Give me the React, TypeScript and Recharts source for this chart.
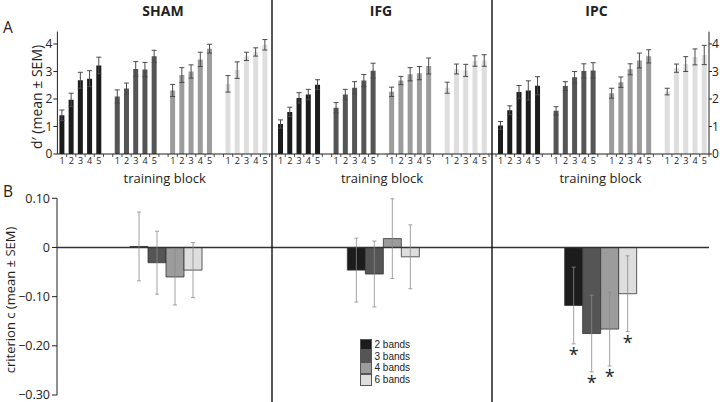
import React from 'react';
import { BarChart, Bar, XAxis, YAxis, ErrorBar, Cell, ReferenceLine, LabelList } from 'recharts';

// ---------- data ----------
const conditions = ['SHAM', 'IFG', 'IPC'];
const bandNames = ['2 bands', '3 bands', '4 bands', '6 bands'];
const blocks = ['1', '2', '3', '4', '5'];

// d' (mean) per band (rows) x training block (cols)
const shamDMean = [
  [1.41, 1.97, 2.68, 2.74, 3.22],
  [2.09, 2.38, 3.09, 3.07, 3.55],
  [2.31, 2.87, 3.0, 3.44, 3.83],
  [2.55, 3.05, 3.55, 3.71, 3.97],
];
const shamDSem = [
  [0.19, 0.24, 0.29, 0.29, 0.3],
  [0.24, 0.2, 0.27, 0.26, 0.22],
  [0.22, 0.27, 0.24, 0.26, 0.16],
  [0.3, 0.3, 0.15, 0.15, 0.19],
];
const ifgDMean = [
  [1.09, 1.53, 2.04, 2.16, 2.52],
  [1.68, 2.16, 2.41, 2.67, 3.03],
  [2.26, 2.67, 2.9, 2.94, 3.2],
  [2.41, 3.09, 3.04, 3.38, 3.4],
];
const ifgDSem = [
  [0.15, 0.17, 0.19, 0.19, 0.18],
  [0.19, 0.19, 0.22, 0.22, 0.27],
  [0.17, 0.15, 0.24, 0.24, 0.29],
  [0.2, 0.18, 0.22, 0.19, 0.21],
];
const ipcDMean = [
  [1.04, 1.59, 2.25, 2.31, 2.48],
  [1.57, 2.47, 2.79, 3.02, 3.04],
  [2.21, 2.61, 3.08, 3.4, 3.55],
  [2.27, 3.12, 3.27, 3.53, 3.6],
];
const ipcDSem = [
  [0.14, 0.16, 0.24, 0.35, 0.33],
  [0.15, 0.16, 0.21, 0.26, 0.28],
  [0.18, 0.19, 0.2, 0.27, 0.24],
  [0.12, 0.15, 0.27, 0.29, 0.35],
];
const dTicks = [0, 1, 2, 3, 4];

// criterion c per band
const shamCMean = [0.002, -0.031, -0.06, -0.046];
const shamCSem = [0.07, 0.064, 0.057, 0.056];
const ifgCMean = [-0.046, -0.054, 0.018, -0.019];
const ifgCSem = [0.065, 0.067, 0.081, 0.065];
const ipcCMean = [-0.118, -0.175, -0.166, -0.094];
const ipcCSem = [0.078, 0.078, 0.075, 0.077];
const shamSig = [false, false, false, false];
const ifgSig = [false, false, false, false];
const ipcSig = [true, true, true, true];
const cTicks = [0.1, 0, -0.1, -0.2, -0.3];

// ---------- styles ----------
const bandColors = ['#1c1c1c', '#555555', '#9c9c9c', '#dedede'];
const FONT = '"Open Sans", "DejaVu Sans", sans-serif';
const TXT = '#222';

const dMeans = [shamDMean, ifgDMean, ipcDMean];
const dSems = [shamDSem, ifgDSem, ipcDSem];
const cMeans = [shamCMean, ifgCMean, ipcCMean];
const cSems = [shamCSem, ifgCSem, ipcCSem];
const cSigs = [shamSig, ifgSig, ipcSig];

type Row = { key: string; label: string; value: number | null; err?: number; band: number };

function buildBlockRows(means: number[][], sems: number[][]): Row[] {
  const rows: Row[] = [];
  means.forEach((arr, g) => {
    if (g > 0) rows.push({ key: `gap${g}`, label: '', value: null, band: -1 });
    arr.forEach((m, b) => rows.push({ key: `g${g}b${b}`, label: blocks[b], value: m, err: sems[g][b], band: g }));
  });
  return rows;
}

const panelLayout = [
  { left: 0, width: 272, yAxis: 'left', yW: 57.4, padL: 0, padR: 2.4 },
  { left: 272, width: 220, yAxis: 'none', yW: 0, padL: 4, padR: 3 },
  { left: 492, width: 228, yAxis: 'right', yW: 11, padL: 4, padR: 0 },
];

const A_H = 186;

function PanelA({ idx }: { idx: number }) {
  const p = panelLayout[idx];
  const rows = buildBlockRows(dMeans[idx], dSems[idx]);
  const bw = (p.width - p.yW - p.padL - p.padR) / rows.length;
  const renderTick = (props: any) => {
    const { x, y, payload } = props;
    const row = rows[payload.index];
    return (
      <g>
        {payload.index === 0 && idx > 0 ? (
          <line x1={x - bw / 2} x2={x - bw / 2} y1={y} y2={y + 3} stroke={TXT} strokeWidth={0.8} />
        ) : null}
        <line x1={x + bw / 2} x2={x + bw / 2} y1={y} y2={y + 3} stroke={TXT} strokeWidth={0.8} />
        {row && row.label ? (
          <text x={x} y={y + 9.5} textAnchor="middle" fontSize={9} fill={TXT} fontFamily={FONT}>
            {row.label}
          </text>
        ) : null}
      </g>
    );
  };
  return (
    <div style={{ position: 'absolute', left: p.left, top: 0 }}>
      <BarChart width={p.width} height={A_H} data={rows} margin={{ top: 31.6, right: 0, bottom: 0, left: 0 }}>
        <XAxis
          dataKey="key"
          interval={0}
          tickLine={false}
          tickSize={0}
          tickMargin={0}
          height={32}
          axisLine={{ stroke: TXT, strokeWidth: 1 }}
          padding={{ left: p.padL, right: p.padR }}
          tick={renderTick}
          label={{ value: 'training block', position: 'insideBottom', offset: 3, fill: TXT, fontSize: 13, fontFamily: FONT }}
        />
        {p.yAxis === 'none' ? (
          <YAxis hide domain={[0, 4.45]} allowDataOverflow />
        ) : (
          <YAxis
            orientation={p.yAxis as any}
            width={p.yW}
            domain={[0, 4.45]}
            allowDataOverflow
            ticks={dTicks}
            tickSize={p.yAxis === 'left' ? 4 : 3}
            tickMargin={p.yAxis === 'left' ? 1 : 0}
            axisLine={{ stroke: TXT, strokeWidth: 1 }}
            tickLine={{ stroke: TXT, strokeWidth: 1 }}
            tick={{ fill: TXT, fontSize: 12, fontFamily: FONT }}
          />
        )}
        <Bar dataKey="value" barSize={5} isAnimationActive={false}>
          {rows.map((r) => (
            <Cell key={r.key} fill={r.band >= 0 ? bandColors[r.band] : 'none'} />
          ))}
          <ErrorBar dataKey="err" width={2.5} stroke="#4a4a4a" strokeWidth={1} />
        </Bar>
      </BarChart>
    </div>
  );
}

const B_TOP = 186;

function PanelB() {
  const rows = conditions.map((c, i) => {
    const r: any = { cond: c };
    bandNames.forEach((_, k) => {
      r[`m${k}`] = cMeans[i][k];
      r[`e${k}`] = cSems[i][k];
    });
    return r;
  });
  const fmt = (v: number) => (v === 0 ? '0' : (v < 0 ? '\u2212' : '') + Math.abs(v).toFixed(2));
  const asterisk = (k: number) => (props: any) => {
    const { index } = props;
    if (index == null || !cSigs[index][k]) return null;
    const vb = props.viewBox && props.viewBox.height != null ? props.viewBox : props;
    const { x, y, width, height } = vb;
    const value = cMeans[index][k];
    const err = cSems[index][k];
    const top = Math.min(y, y + height);
    const bottom = Math.max(y, y + height);
    const ppu = Math.abs(height) / Math.abs(value);
    const zeroY = value < 0 ? top : bottom;
    const capY = zeroY - (value - err) * ppu;
    return (
      <text x={x + width / 2} y={capY + 17} textAnchor="middle" fontSize={18} fill={TXT} fontFamily={FONT}>
        *
      </text>
    );
  };
  return (
    <div style={{ position: 'absolute', left: 0, top: B_TOP }}>
      <BarChart
        width={720}
        height={402 - B_TOP}
        data={rows}
        margin={{ top: 12.3, right: 11, bottom: 7, left: 0 }}
        barGap={0}
        barCategoryGap={0}
      >
        <XAxis dataKey="cond" hide />
        <YAxis
          width={57}
          domain={[-0.3, 0.1]}
          allowDataOverflow
          ticks={cTicks}
          tickFormatter={fmt}
          tickSize={5}
          tickMargin={2}
          axisLine={{ stroke: TXT, strokeWidth: 1 }}
          tickLine={{ stroke: TXT, strokeWidth: 1 }}
          tick={{ fill: TXT, fontSize: 12.5, fontFamily: FONT }}
        />
        <ReferenceLine y={0} stroke="#333" strokeWidth={1.3} />
        {bandNames.map((b, k) => (
          <Bar
            key={b}
            name={b}
            dataKey={`m${k}`}
            fill={bandColors[k]}
            stroke="#333"
            strokeWidth={0.8}
            barSize={18}
            isAnimationActive={false}
          >
            <ErrorBar dataKey={`e${k}`} width={2} stroke="#8a8a8a" strokeWidth={0.8} />
            <LabelList dataKey={`m${k}`} content={asterisk(k)} />
          </Bar>
        ))}
      </BarChart>
    </div>
  );
}

const LEG_FONT = '"Liberation Sans", Arial, sans-serif';

function LegendBox() {
  return (
    <div style={{ position: 'absolute', left: 360, top: 338.5, fontFamily: LEG_FONT, fontSize: 10, color: TXT }}>
      {bandNames.map((b, k) => (
        <div key={b} style={{ display: 'flex', alignItems: 'center', height: 11.8 }}>
          <div
            style={{
              width: 9.5,
              height: 9.5,
              background: bandColors[k],
              border: '1px solid #555',
              marginRight: 3,
              flex: 'none',
            }}
          />
          <span style={{ lineHeight: '11px', display: 'block', height: 11, whiteSpace: 'nowrap' }}>{b}</span>
        </div>
      ))}
    </div>
  );
}

function Overlay() {
  return (
    <svg width={720} height={402} style={{ position: 'absolute', left: 0, top: 0, pointerEvents: 'none' }}>
      <line x1={272} x2={272} y1={0} y2={402} stroke="#111" strokeWidth={1.4} />
      <line x1={492} x2={492} y1={0} y2={402} stroke="#111" strokeWidth={1.4} />
      <text x={3} y={32.7} fontSize={15.5} fill={TXT} fontFamily={FONT}>A</text>
      <text x={3} y={196.7} fontSize={15.5} fill={TXT} fontFamily={FONT}>B</text>
      <text x={163} y={15.5} fontSize={14} fontWeight="bold" textAnchor="middle" fill={TXT} fontFamily={FONT}>{conditions[0]}</text>
      <text x={381} y={15.5} fontSize={14} fontWeight="bold" textAnchor="middle" fill={TXT} fontFamily={FONT}>{conditions[1]}</text>
      <text x={596.5} y={15.5} fontSize={14} fontWeight="bold" textAnchor="middle" fill={TXT} fontFamily={FONT}>{conditions[2]}</text>
      <text
        transform="translate(36,97) rotate(-90)"
        textAnchor="middle"
        dominantBaseline="central"
        fontSize={14}
        fill={TXT}
        fontFamily={FONT}
      >
        d′ (mean ± SEM)
      </text>
      <text
        transform="translate(10,300) rotate(-90)"
        textAnchor="middle"
        dominantBaseline="central"
        fontSize={13}
        fill={TXT}
        fontFamily={FONT}
      >
        criterion c (mean ± SEM)
      </text>
    </svg>
  );
}

export default function App() {
  return (
    <div style={{ position: 'absolute', left: 0, top: 0, width: 720, height: 402, background: '#fff', overflow: 'hidden' }}>
      <PanelA idx={0} />
      <PanelA idx={1} />
      <PanelA idx={2} />
      <PanelB />
      <LegendBox />
      <Overlay />
    </div>
  );
}
